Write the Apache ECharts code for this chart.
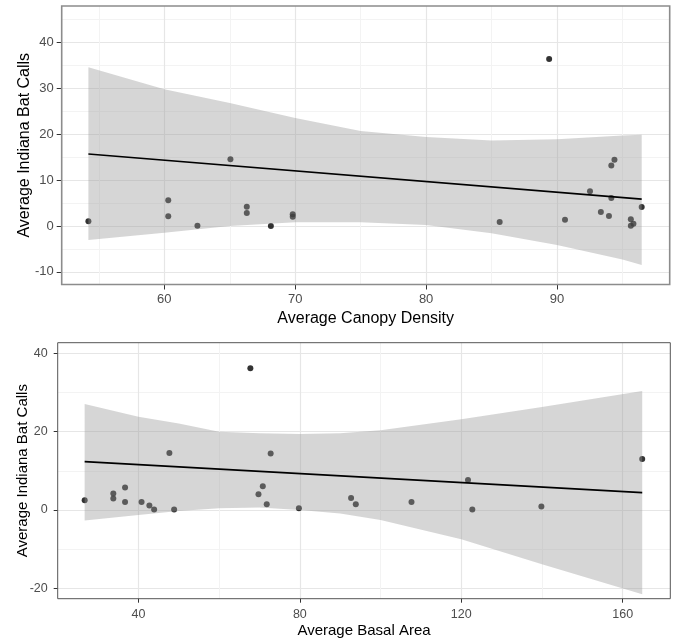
<!DOCTYPE html>
<html>
<head>
<meta charset="utf-8">
<style>html,body{margin:0;padding:0;background:#fff}#c{width:676px;height:640px}</style>
<script src="https://cdn.jsdelivr.net/npm/echarts@6/dist/echarts.min.js"></script>
</head>
<body>
<div id="c"></div>
<script>
// ---- Top panel: Average Canopy Density ----
const canopyX = [54.2, 60.3, 60.3, 62.53, 65.05, 66.3, 66.3, 68.14, 69.81, 69.81, 89.4, 85.62, 90.61, 92.52, 93.35, 93.97, 94.15, 94.39, 94.15, 95.64, 95.84, 95.64, 96.47];
const canopyY = [1.02, 5.6, 2.1, 0.07, 14.55, 4.2, 2.84, 0.0, 2.55, 2.04, 36.4, 0.87, 1.38, 7.57, 3.06, 2.18, 13.17, 14.41, 6.11, 1.45, 0.5, 0.07, 4.15];
const canopyFitX = [54.2, 96.47];
const canopyFitY = [15.7, 5.85];
const canopyBandX = [54.2, 60, 65, 70, 75, 80, 85, 90, 95, 96.47];
const canopyBandUpper = [34.6, 29.8, 26.8, 23.5, 20.7, 19.4, 18.6, 18.9, 19.7, 19.9];
const canopyBandLower = [-3.06, -1.45, 0.0, 0.8, 0.8, 0.2, -1.6, -4.15, -7.3, -8.5];
const canopyXTicks = [60, 70, 80, 90];
const canopyXMinor = [55, 65, 75, 85, 95];
const canopyYTicks = [-10, 0, 10, 20, 30, 40];
const canopyYMinor = [-5, 5, 15, 25, 35, 45];

// ---- Bottom panel: Average Basal Area ----
const basalX = [26.68, 33.78, 33.78, 36.69, 36.69, 40.78, 42.72, 43.89, 47.68, 48.85, 67.74, 69.75, 70.82, 71.8, 72.77, 79.77, 92.7, 93.87, 107.67, 121.67, 122.74, 139.85, 164.84];
const basalY = [2.47, 4.17, 2.9, 5.71, 2.04, 2.04, 1.1, 0.09, 14.57, 0.09, 36.2, 4.0, 6.05, 1.45, 14.4, 0.43, 3.07, 1.45, 2.04, 7.67, 0.09, 0.85, 13.03];
const basalFitX = [26.68, 164.84];
const basalFitY = [12.35, 4.43];
const basalBandX = [26.68, 40, 50, 60, 70, 80, 90, 100, 120, 140, 164.84];
const basalBandUpper = [27.1, 23.85, 22.1, 20.0, 19.6, 19.4, 19.6, 20.4, 23.2, 26.3, 30.4];
const basalBandLower = [-2.73, -1.28, -0.3, 0.43, 0.6, 0.0, -0.9, -2.56, -7.5, -13.9, -21.55];
const basalXTicks = [40, 80, 120, 160];
const basalXMinor = [60, 100, 140];
const basalYTicks = [-20, 0, 20, 40];
const basalYMinor = [-10, 10, 30];

const FONT = 'Liberation Sans, Arial, sans-serif';
const zip = (a, b) => a.map((v, i) => [v, b[i]]);

function bandSeries(xIdx, yIdx, bx, up, lo) {
  const data = bx.map((x, i) => [x, up[i], lo[i]]);
  return {
    type: 'custom', xAxisIndex: xIdx, yAxisIndex: yIdx, z: 3, silent: true,
    clip: true,
    encode: { x: 0, y: [1, 2] },
    data: data,
    renderItem: function (params, api) {
      if (params.dataIndex !== 0) return null;
      const pts = [];
      for (let i = 0; i < data.length; i++) pts.push(api.coord([data[i][0], data[i][1]]));
      for (let i = data.length - 1; i >= 0; i--) pts.push(api.coord([data[i][0], data[i][2]]));
      return { type: 'polygon', shape: { points: pts }, style: { fill: 'rgba(153,153,153,0.4)' } };
    }
  };
}

function majorX(gi, min, max, ticks, labelMargin, tickLen, name, nameGap, fs, nfs) {
  return {
    type: 'value', gridIndex: gi, min: min, max: max, position: 'bottom',
    name: name, nameLocation: 'middle', nameGap: nameGap, nameMoveOverlap: false,
    nameTextStyle: { color: '#000', fontSize: nfs, fontFamily: FONT },
    axisLine: { show: false, onZero: false },
    axisTick: { show: true, length: tickLen, customValues: ticks, lineStyle: { color: '#333', width: 1 } },
    axisLabel: { customValues: ticks, margin: labelMargin, color: '#4d4d4d', fontSize: fs, fontFamily: FONT },
    splitLine: { show: true, lineStyle: { color: '#e6e6e6', width: 1.2 } }
  };
}
function minorX(gi, min, max, ticks) {
  return {
    type: 'value', gridIndex: gi, min: min, max: max, position: 'top',
    axisLine: { show: false, onZero: false },
    axisTick: { show: false, customValues: ticks },
    axisLabel: { show: false, customValues: ticks },
    splitLine: { show: true, lineStyle: { color: '#f3f3f3', width: 1 } }
  };
}
function majorY(gi, min, max, ticks, labelMargin, tickLen, name, nameGap, fs, nfs) {
  return {
    type: 'value', gridIndex: gi, min: min, max: max, position: 'left',
    name: name, nameLocation: 'middle', nameGap: nameGap, nameMoveOverlap: false,
    nameTextStyle: { color: '#000', fontSize: nfs, fontFamily: FONT },
    axisLine: { show: false, onZero: false },
    axisTick: { show: true, length: tickLen, customValues: ticks, lineStyle: { color: '#333', width: 1 } },
    axisLabel: { customValues: ticks, margin: labelMargin, color: '#4d4d4d', fontSize: fs, fontFamily: FONT },
    splitLine: { show: true, lineStyle: { color: '#e6e6e6', width: 1.2 } }
  };
}
function minorY(gi, min, max, ticks) {
  return {
    type: 'value', gridIndex: gi, min: min, max: max, position: 'right',
    axisLine: { show: false, onZero: false },
    axisTick: { show: false, customValues: ticks },
    axisLabel: { show: false, customValues: ticks },
    splitLine: { show: true, lineStyle: { color: '#f3f3f3', width: 1 } }
  };
}

const chart = echarts.init(document.getElementById('c'), null, { renderer: 'canvas' });
chart.setOption({
  animation: false,
  backgroundColor: '#fff',
  grid: [
    { left: 61.7, right: 6.3, top: 6, height: 278.5, show: true, borderColor: '#8c8c8c', borderWidth: 1.6, backgroundColor: 'transparent', z: 10 },
    { left: 57.7, right: 5.7, top: 342.7, height: 256, show: true, borderColor: '#555', borderWidth: 1, backgroundColor: 'transparent', z: 10 }
  ],
  xAxis: [
    majorX(0, 52.16, 98.61, canopyXTicks, 8, 5, 'Average Canopy Density', 26, 13, 16),
    minorX(0, 52.16, 98.61, canopyXMinor),
    majorX(1, 20.0, 171.8, basalXTicks, 9, 4, 'Average Basal Area', 25, 12.5, 15),
    minorX(1, 20.0, 171.8, basalXMinor)
  ],
  yAxis: [
    majorY(0, -12.74, 47.92, canopyYTicks, 8, 5, 'Average Indiana Bat Calls', 29, 13, 16),
    minorY(0, -12.74, 47.92, canopyYMinor),
    majorY(1, -22.7, 42.76, basalYTicks, 10, 4, 'Average Indiana Bat Calls', 27, 12.5, 15),
    minorY(1, -22.7, 42.76, basalYMinor)
  ],
  series: [
    { type: 'scatter', xAxisIndex: 0, yAxisIndex: 0, z: 2, symbolSize: 6, itemStyle: { color: '#000' }, data: zip(canopyX, canopyY) },
    bandSeries(0, 0, canopyBandX, canopyBandUpper, canopyBandLower),
    { type: 'line', xAxisIndex: 0, yAxisIndex: 0, z: 4, symbol: 'none', lineStyle: { color: '#000', width: 1.6 }, data: zip(canopyFitX, canopyFitY) },
    { type: 'scatter', xAxisIndex: 2, yAxisIndex: 2, z: 2, symbolSize: 6, itemStyle: { color: '#000' }, data: zip(basalX, basalY) },
    bandSeries(2, 2, basalBandX, basalBandUpper, basalBandLower),
    { type: 'line', xAxisIndex: 2, yAxisIndex: 2, z: 4, symbol: 'none', lineStyle: { color: '#000', width: 1.6 }, data: zip(basalFitX, basalFitY) }
  ]
});
</script>
</body>
</html>
